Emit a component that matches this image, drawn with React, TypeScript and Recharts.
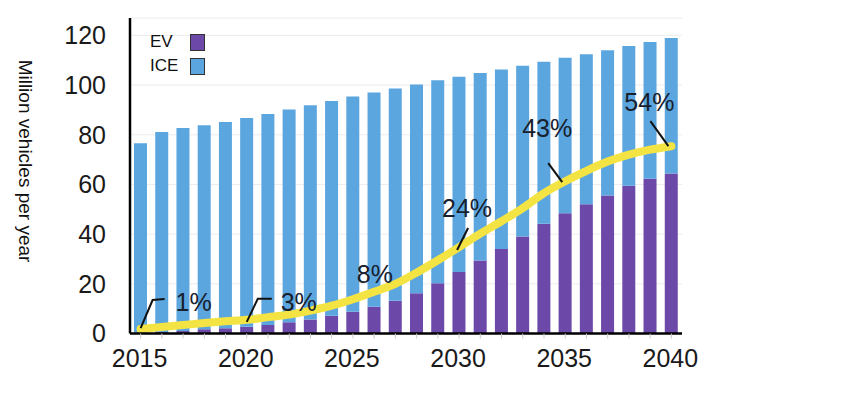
import React from 'react';
import {
  ComposedChart,
  Bar,
  Line,
  XAxis,
  YAxis,
  CartesianGrid,
  Legend,
  Label
} from 'recharts';

// values (million vehicles per year)
const years = [
  2015, 2016, 2017, 2018, 2019, 2020, 2021, 2022, 2023, 2024, 2025, 2026, 2027,
  2028, 2029, 2030, 2031, 2032, 2033, 2034, 2035, 2036, 2037, 2038, 2039, 2040
];
const evSales = [
  0.3, 0.6, 1.0, 1.7, 2.1, 2.7, 3.4, 4.5, 5.6, 7.1, 8.8, 10.8, 13.2,
  16.2, 20.2, 24.8, 29.4, 34.0, 39.0, 44.2, 48.4, 52.0, 55.6, 59.5, 62.3, 64.4
];
const iceSales = [
  76.3, 80.5, 81.7, 82.1, 83.0, 84.0, 85.0, 85.7, 86.3, 86.5, 86.6, 86.2, 85.4,
  84.0, 81.7, 78.6, 75.5, 72.3, 68.8, 65.2, 62.6, 60.4, 58.4, 56.2, 55.0, 54.5
];
// yellow EV-share curve, drawn on the same scale
const shareCurve = [
  1.8, 2.6, 3.4, 4.2, 4.9, 5.5, 6.6, 7.6, 9.2, 11.2, 13.8, 16.8, 20.0,
  24.5, 29.5, 34.8, 40.2, 45.2, 50.5, 56.5, 61.3, 65.5, 69.2, 72.0, 74.0, 75.4
];
const yTicks = [0, 20, 40, 60, 80, 100, 120];
const shareLabels: Record<number, string> = {
  2015: '1%',
  2020: '3%',
  2025: '8%',
  2030: '24%',
  2035: '43%',
  2040: '54%'
};

const data = years.map((year, i) => ({
  year,
  ev: evSales[i],
  ice: iceSales[i],
  share: shareCurve[i]
}));

const EV_COLOR = '#6c48a8';
const ICE_COLOR = '#5ca6e0';
const CURVE_COLOR = '#f3e444';
const FONT = '"Liberation Sans", Arial, sans-serif';

// pixel offsets of each callout from its point on the curve
const calloutLayout: Record<number, { leader: number[][]; tx: number; ty: number }> = {
  2015: { leader: [[0, -1], [12, -29], [24, -30]], tx: 53, ty: -27 },
  2020: { leader: [[0, 2], [11, -21], [25, -21]], tx: 52, ty: -18 },
  2025: { leader: [], tx: 22, ty: -25 },
  2030: { leader: [[-2, 3], [9, -19]], tx: 8, ty: -39 },
  2035: { leader: [[-3, 1], [-17, -18]], tx: -18, ty: -53 },
  2040: { leader: [[-3, 0], [-21, -25]], tx: -22, ty: -44 }
};

const Callout = (props: any) => {
  const { x, y, index } = props;
  const year = years[index];
  const text = shareLabels[year];
  const lay = calloutLayout[year];
  if (!text || !lay) return null;
  const d = lay.leader.map((p, k) => `${k === 0 ? 'M' : 'L'}${x + p[0]},${y + p[1]}`).join(' ');
  return (
    <g>
      {d && <path d={d} stroke="#111" strokeWidth={2} fill="none" />}
      <text
        x={x + lay.tx}
        y={y + lay.ty}
        dy="0.36em"
        textAnchor="middle"
        fill="#17202c"
        style={{ fontSize: 25, fontFamily: FONT }}
      >
        {text}
      </text>
    </g>
  );
};

const YearTick = (props: any) => {
  const { x, y, payload } = props;
  if (payload.value % 5 !== 0) return null;
  return (
    <text
      x={x - 1}
      y={y}
      dy={28}
      textAnchor="middle"
      fill="#1a1a1a"
      style={{ fontSize: 25, fontFamily: FONT }}
    >
      {payload.value}
    </text>
  );
};

const LegendBox = () => (
  <div style={{ fontFamily: FONT, fontSize: 17, color: '#111', lineHeight: '24px' }}>
    {[
      { name: 'EV', color: EV_COLOR },
      { name: 'ICE', color: ICE_COLOR }
    ].map((item) => (
      <div key={item.name} style={{ display: 'flex', alignItems: 'center', height: 24 }}>
        <span style={{ width: 40 }}>{item.name}</span>
        <span
          style={{
            width: 13,
            height: 15,
            background: item.color,
            border: '1px solid #333',
            display: 'inline-block'
          }}
        />
      </div>
    ))}
  </div>
);

const YLabel = (props: any) => {
  const { viewBox } = props;
  const cx = viewBox.x + 26;
  const cy = 161;
  return (
    <text
      x={cx}
      y={cy}
      transform={`rotate(90, ${cx}, ${cy})`}
      textAnchor="middle"
      dy="0.35em"
      fill="#111"
      style={{ fontSize: 19, fontFamily: FONT }}
    >
      Million vehicles per year
    </text>
  );
};

const App: React.FC = () => {
  return (
    <div style={{ position: 'absolute', left: 0, top: 0, background: '#fff' }}>
      <ComposedChart
        width={850}
        height={405}
        data={data}
        margin={{ top: 18, right: 168, bottom: 0, left: 0 }}
        barSize={13}
      >
        <CartesianGrid vertical={false} stroke="#ececec" />
        <XAxis
          dataKey="year"
          height={71.5}
          interval={0}
          tick={<YearTick />}
          tickSize={5}
          tickMargin={0}
          tickLine={{ stroke: '#c8c8c8' }}
          axisLine={{ stroke: '#000', strokeWidth: 2.5 }}
        />
        <YAxis
          width={130}
          domain={[0, 127]}
          ticks={yTicks}
          tickLine={false}
          tickSize={0}
          tickMargin={24}
          axisLine={{ stroke: '#000', strokeWidth: 2.5 }}
          tick={{ fontSize: 25, fontFamily: FONT, fill: '#1a1a1a' }}
          allowDataOverflow
        >
          <Label content={<YLabel />} />
        </YAxis>
        <Legend
          layout="horizontal"
          verticalAlign="middle"
          align="center"
          content={<LegendBox />}
          wrapperStyle={{ left: 150, top: 30, width: 80, height: 50 }}
        />
        <Bar dataKey="ev" stackId="sales" fill={EV_COLOR} isAnimationActive={false} />
        <Bar dataKey="ice" stackId="sales" fill={ICE_COLOR} isAnimationActive={false} />
        <Line
          dataKey="share"
          type="monotone"
          stroke={CURVE_COLOR}
          strokeWidth={8}
          strokeLinecap="round"
          dot={false}
          activeDot={false}
          label={<Callout />}
          isAnimationActive={false}
        />
      </ComposedChart>
    </div>
  );
};

export default App;
